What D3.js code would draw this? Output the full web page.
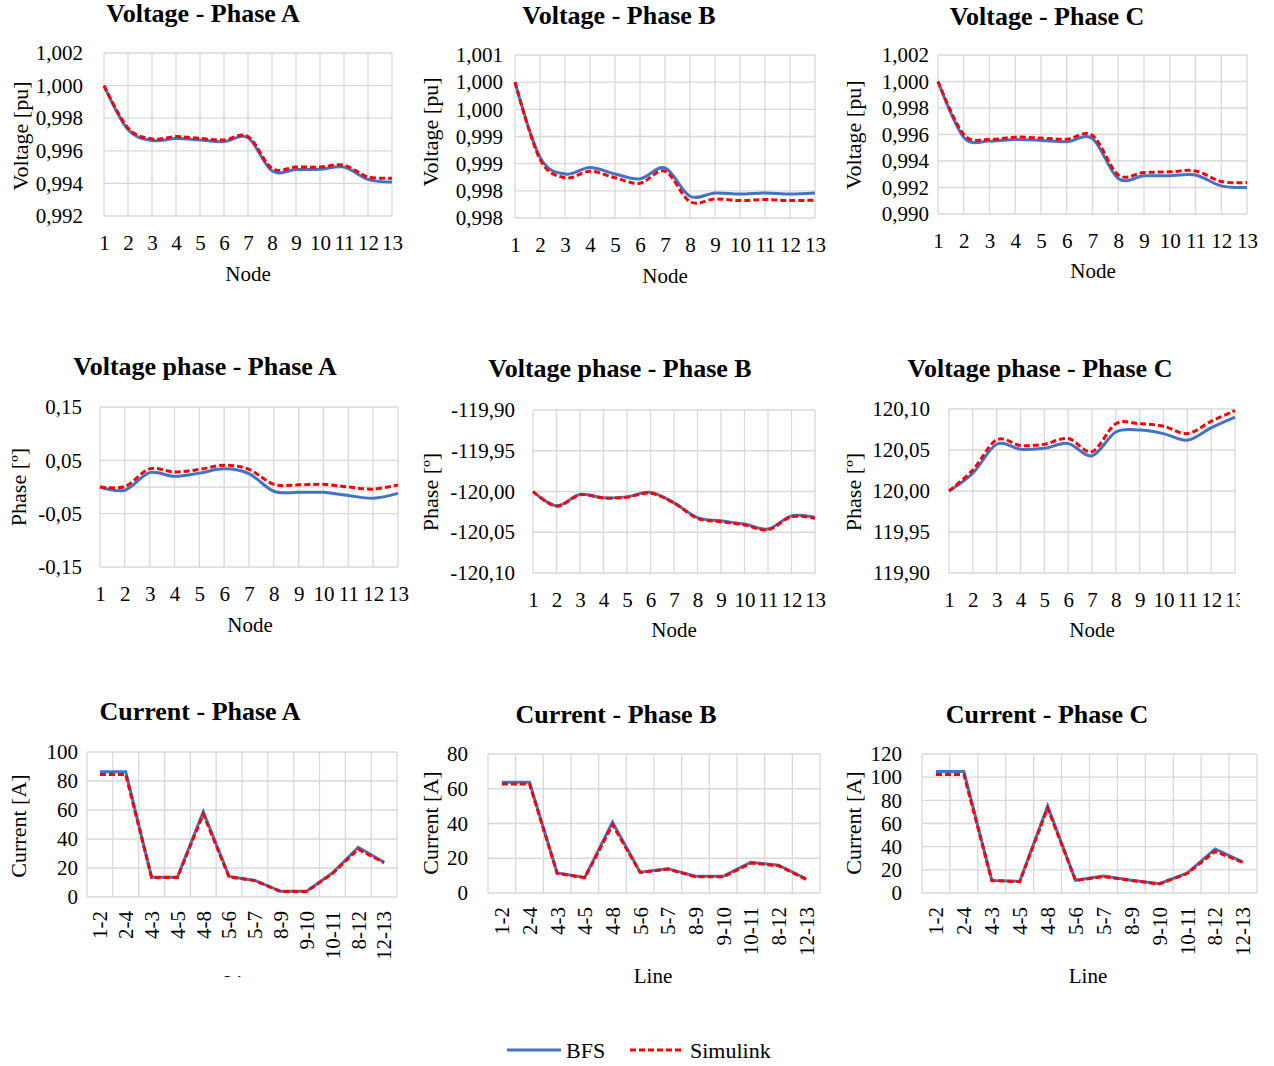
<!DOCTYPE html>
<html>
<head>
<meta charset="utf-8">
<script src="https://cdn.jsdelivr.net/npm/d3@7"></script>
<style>
  body { margin: 0; background: #fff; }
  svg, svg text { font-family: "Liberation Serif", "Times New Roman", serif; }
</style>
</head>
<body>
<div id="chart"></div>
<script>
// categories
const nodeLabels = ["1","2","3","4","5","6","7","8","9","10","11","12","13"];
const lineLabels = ["1-2","2-4","4-3","4-5","4-8","5-6","5-7","8-9","9-10","10-11","8-12","12-13"];
const seriesNames = ["BFS", "Simulink"];

// voltage magnitude [pu]
const voltA_bfs = [1.0000,0.9973,0.99663,0.99675,0.99667,0.99656,0.9968,0.99477,0.99485,0.99487,0.9950,0.99425,0.99408];
const voltA_sim = [1.0000,0.9974,0.99673,0.99687,0.99676,0.99666,0.99688,0.99492,0.99500,0.99500,0.99512,0.99440,0.99432];
const voltB_bfs = [1.0000,0.99862,0.99831,0.99843,0.99831,0.99822,0.99842,0.99790,0.99796,0.99794,0.99796,0.99794,0.99796];
const voltB_sim = [1.0000,0.99858,0.99824,0.99836,0.99824,0.99814,0.99836,0.99780,0.99785,0.99782,0.99784,0.99782,0.99783];
const voltC_bfs = [1.0000,0.9958,0.9955,0.99562,0.99555,0.99545,0.99568,0.99268,0.99288,0.99288,0.99295,0.99212,0.9920];
const voltC_sim = [1.0000,0.9960,0.99563,0.9958,0.99573,0.99565,0.99593,0.99295,0.99313,0.99318,0.99325,0.99245,0.99238];

// voltage phase [deg]
const phaseA_bfs = [0.000,-0.006,0.027,0.020,0.026,0.034,0.025,-0.008,-0.010,-0.010,-0.016,-0.021,-0.012];
const phaseA_sim = [0.000,0.001,0.034,0.028,0.033,0.041,0.033,0.005,0.004,0.005,0.000,-0.004,0.004];
const phaseB_bfs = [-120.000,-120.0176,-120.0037,-120.0078,-120.0066,-120.0012,-120.0139,-120.032,-120.036,-120.040,-120.046,-120.030,-120.032];
const phaseB_sim = [-120.000,-120.018,-120.004,-120.008,-120.007,-120.002,-120.014,-120.033,-120.037,-120.041,-120.047,-120.031,-120.033];
const phaseC_bfs = [120.000,120.0216,120.057,120.051,120.052,120.058,120.043,120.072,120.0743,120.070,120.062,120.077,120.090];
const phaseC_sim = [120.000,120.0257,120.0624,120.0555,120.057,120.064,120.048,120.082,120.082,120.079,120.070,120.085,120.098];

// line current [A]
const currA_bfs = [86.3,86.3,13.7,13.7,58.8,14.2,11.4,3.9,3.9,16.5,34.3,24.0];
const currA_sim = [84.4,84.5,13.5,13.5,57.2,13.8,11.3,3.8,3.8,16.2,33.0,23.6];
const currB_bfs = [63.7,63.7,11.5,9.0,40.7,12.0,14.0,9.6,9.6,17.7,16.0,8.2];
const currB_sim = [62.8,62.8,11.3,8.8,39.3,11.8,13.8,9.3,9.3,17.2,15.7,7.8];
const currC_bfs = [104.9,104.9,10.9,10.0,75.0,11.0,14.6,11.0,8.0,17.2,38.0,26.7];
const currC_sim = [102.3,102.3,10.8,9.8,73.3,10.8,14.2,10.8,7.8,16.8,36.0,26.3];

// y ticks
const yTicksVA = [0.992,0.994,0.996,0.998,1.000,1.002];
const yTicksVB = [0.9975,0.998,0.9985,0.999,0.9995,1.000,1.0005];
const yLabelsVB = ["0,998","0,998","0,999","0,999","1,000","1,000","1,001"];
const yTicksVC = [0.990,0.992,0.994,0.996,0.998,1.000,1.002];
const yTicksPA = [-0.15,-0.05,0.05,0.15];
const yTicksPB = [-120.10,-120.05,-120.00,-119.95,-119.90];
const yTicksPC = [119.90,119.95,120.00,120.05,120.10];
const yTicksIA = [0,20,40,60,80,100];
const yTicksIB = [0,20,40,60,80];
const yTicksIC = [0,20,40,60,80,100,120];

const locale = d3.formatLocale({decimal: ",", thousands: ".", grouping: [3], currency: ["", ""], minus: "-"});
const f3 = locale.format(".3f");
const f2 = locale.format(".2f");
const f0 = locale.format("d");

const colors = { bfs: "#4472C4", sim: "#FF0000" };
const gridColor = "#d9d9d9";
const serif = "'Liberation Serif', 'Times New Roman', serif";

const width = 1274, height = 1066;

const panels = [
  {title: "Voltage - Phase A", tx: 203, ty: 22, box: [104, 53, 392, 216], kind: "node",
   bfs: voltA_bfs, sim: voltA_sim, ticks: yTicksVA, fmt: f3, gap: 21,
   yTitle: "Voltage [pu]", yx: 20, yy: 136, xTitle: "Node", xx: 248, xy: 281},
  {title: "Voltage - Phase B", tx: 619, ty: 24, box: [515, 55, 815, 218], kind: "node",
   bfs: voltB_bfs, sim: voltB_sim, ticks: yTicksVB, labels: yLabelsVB, gap: 12,
   yTitle: "Voltage [pu]", yx: 430, yy: 132, xTitle: "Node", xx: 665, xy: 283},
  {title: "Voltage - Phase C", tx: 1047, ty: 25, box: [938, 55, 1247, 214], kind: "node",
   bfs: voltC_bfs, sim: voltC_sim, ticks: yTicksVC, fmt: f3, gap: 9,
   yTitle: "Voltage [pu]", yx: 853, yy: 135, xTitle: "Node", xx: 1093, xy: 278},
  {title: "Voltage phase - Phase A", tx: 205, ty: 375, box: [100, 407, 398, 567], kind: "node",
   bfs: phaseA_bfs, sim: phaseA_sim, ticks: yTicksPA, fmt: f2, gap: 18, zero: true,
   yTitle: "Phase [º]", yx: 18, yy: 487, xTitle: "Node", xx: 250, xy: 632},
  {title: "Voltage phase - Phase B", tx: 620, ty: 377, box: [533, 410, 815, 573], kind: "node",
   bfs: phaseB_bfs, sim: phaseB_sim, ticks: yTicksPB, fmt: f2, gap: 18,
   yTitle: "Phase [º]", yx: 430, yy: 492, xTitle: "Node", xx: 674, xy: 637},
  {title: "Voltage phase - Phase C", tx: 1040, ty: 377, box: [949, 409, 1235, 573], kind: "node",
   bfs: phaseC_bfs, sim: phaseC_sim, ticks: yTicksPC, fmt: f2, gap: 19, clipX: 1240,
   yTitle: "Phase [º]", yx: 853, yy: 492, xTitle: "Node", xx: 1092, xy: 637},
  {title: "Current - Phase A", tx: 200, ty: 720, box: [87, 752, 397, 897], kind: "line",
   bfs: currA_bfs, sim: currA_sim, ticks: yTicksIA, fmt: f0, gap: 9, hideLine: 977,
   yTitle: "Current [A]", yx: 18, yy: 826, xTitle: "Line", xx: 243, xy: 990},
  {title: "Current - Phase B", tx: 616, ty: 723, box: [488, 754, 820, 893], kind: "line",
   bfs: currB_bfs, sim: currB_sim, ticks: yTicksIB, fmt: f0, gap: 20,
   yTitle: "Current [A]", yx: 430, yy: 823, xTitle: "Line", xx: 653, xy: 983},
  {title: "Current - Phase C", tx: 1047, ty: 723, box: [922, 754, 1257, 893], kind: "line",
   bfs: currC_bfs, sim: currC_sim, ticks: yTicksIC, fmt: f0, gap: 20,
   yTitle: "Current [A]", yx: 853, yy: 823, xTitle: "Line", xx: 1088, xy: 983}
];

const svg = d3.select("#chart").append("svg")
  .attr("width", width)
  .attr("height", height)
  .style("font-family", serif);

const defs = svg.append("defs");

panels.forEach((p, i) => {
  const [x0, y0, x1, y1] = p.box;
  const g = svg.append("g");

  if (p.clipX) {
    defs.append("clipPath").attr("id", "clip" + i)
      .append("rect").attr("x", 0).attr("y", 0).attr("width", p.clipX).attr("height", height);
    g.attr("clip-path", `url(#clip${i})`);
  }

  const y = d3.scaleLinear()
    .domain(d3.extent(p.ticks))
    .range([y1, y0]);

  let x, cats, xPos;
  if (p.kind === "node") {
    cats = nodeLabels;
    x = d3.scalePoint().domain(cats).range([x0, x1]).padding(0);
    xPos = (d) => x(d);
  } else {
    cats = lineLabels;
    x = d3.scaleBand().domain(cats).range([x0, x1]).padding(0);
    xPos = (d) => x(d) + x.bandwidth() / 2;
  }

  // gridlines
  const grid = g.append("g")
    .attr("stroke", gridColor)
    .attr("stroke-width", 1.3);

  grid.selectAll("line.h")
    .data(p.ticks)
    .join("line")
    .attr("x1", x0).attr("x2", x1)
    .attr("y1", (d) => y(d)).attr("y2", (d) => y(d));

  const vPos = p.kind === "node"
    ? cats.map((c) => x(c))
    : cats.map((c) => x(c)).concat([x1]);
  grid.selectAll("line.v")
    .data(vPos)
    .join("line")
    .attr("x1", (d) => d).attr("x2", (d) => d)
    .attr("y1", y0).attr("y2", y1);

  if (p.zero) {
    grid.append("line")
      .attr("x1", x0).attr("x2", x1)
      .attr("y1", y(0)).attr("y2", y(0));
  }

  // y axis labels
  const yAxis = d3.axisLeft(y)
    .tickValues(p.ticks)
    .tickSize(0)
    .tickPadding(p.gap)
    .tickFormat((d, k) => p.labels ? p.labels[k] : p.fmt(d));
  const ya = g.append("g").attr("transform", `translate(${x0},0)`).call(yAxis);
  ya.attr("font-family", null).attr("font-size", null);
  ya.select(".domain").remove();
  ya.selectAll("text")
    .style("font-family", serif)
    .attr("font-size", 21)
    .attr("fill", "#000");

  // x axis labels
  const xAxis = d3.axisBottom(x).tickSize(0);
  const xa = g.append("g").attr("transform", `translate(0,${y1})`);
  if (p.kind === "node") {
    xAxis.tickPadding(19);
    xa.call(xAxis);
  } else {
    xa.call(xAxis);
    xa.selectAll("text")
      .attr("transform", "rotate(-90)")
      .attr("x", -14)
      .attr("y", 0)
      .attr("dy", "0.35em")
      .attr("text-anchor", "end");
  }
  xa.attr("font-family", null).attr("font-size", null);
  xa.select(".domain").remove();
  xa.selectAll("text")
    .style("font-family", serif)
    .attr("font-size", 21)
    .attr("fill", "#000");

  // series
  const curve = p.kind === "node" ? d3.curveCardinal.tension(0) : d3.curveLinear;
  const line = d3.line()
    .x((d, k) => xPos(cats[k]))
    .y((d) => y(d))
    .curve(curve);

  g.append("path")
    .attr("d", line(p.bfs))
    .attr("fill", "none")
    .attr("stroke", colors.bfs)
    .attr("stroke-width", 3);

  g.append("path")
    .attr("d", line(p.sim))
    .attr("fill", "none")
    .attr("stroke", colors.sim)
    .attr("stroke-width", 3)
    .attr("stroke-dasharray", "6,3");

  // titles
  g.append("text")
    .attr("x", p.tx).attr("y", p.ty)
    .attr("text-anchor", "middle")
    .attr("font-size", 26)
    .attr("font-weight", "bold")
    .text(p.title);

  g.append("text")
    .attr("transform", `translate(${p.yx},${p.yy}) rotate(-90)`)
    .attr("text-anchor", "middle")
    .attr("dominant-baseline", "central")
    .attr("font-size", 22)
    .text(p.yTitle);

  const xt = g.append("text")
    .attr("x", p.xx).attr("y", p.xy)
    .attr("text-anchor", "middle")
    .attr("font-size", 21)
    .text(p.xTitle);

  if (p.hideLine) {
    defs.append("clipPath").attr("id", "cliptitle" + i)
      .append("rect").attr("x", 0).attr("y", 0).attr("width", width).attr("height", p.hideLine);
    xt.attr("clip-path", `url(#cliptitle${i})`);
  }
});

// legend
const legend = svg.append("g").attr("transform", "translate(507,1050)");
const legendItems = legend.selectAll("g")
  .data(seriesNames)
  .join("g")
  .attr("transform", (d, i) => `translate(${i * 123},0)`);

legendItems.append("line")
  .attr("x1", 0).attr("x2", 54)
  .attr("y1", 0).attr("y2", 0)
  .attr("stroke", (d, i) => i === 0 ? colors.bfs : colors.sim)
  .attr("stroke-width", 3)
  .attr("stroke-dasharray", (d, i) => i === 0 ? null : "6,3");

legendItems.append("text")
  .attr("x", (d, i) => i === 0 ? 59 : 60)
  .attr("y", 8)
  .attr("font-size", 22)
  .text((d) => d);
</script>
</body>
</html>
